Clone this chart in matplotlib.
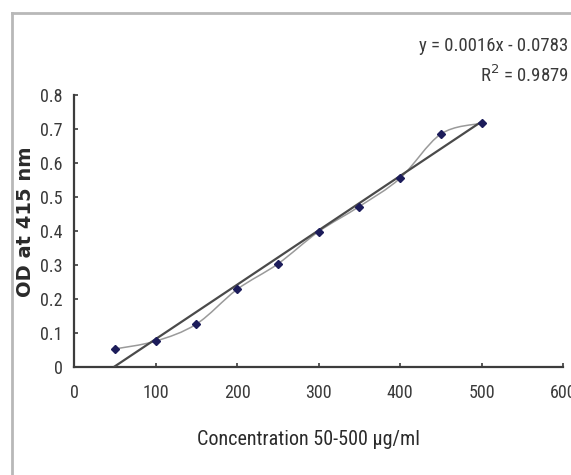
import matplotlib
matplotlib.use("Agg")
import matplotlib.pyplot as plt
from matplotlib.path import Path
from matplotlib.patches import PathPatch
from matplotlib.lines import Line2D
from matplotlib import font_manager
import numpy as np

# Data
concentration = [50, 100, 150, 200, 250, 300, 350, 400, 450, 500]
od_415 = [0.053, 0.076, 0.126, 0.228, 0.303, 0.398, 0.472, 0.555, 0.685, 0.717]
trend_slope = 0.0016
trend_intercept = -0.0783
trend_r2 = 0.9879
x_ticks = [0, 100, 200, 300, 400, 500, 600]
y_ticks = [0, 0.1, 0.2, 0.3, 0.4, 0.5, 0.6, 0.7, 0.8]

# pick a condensed font if one is installed
available = {f.name for f in font_manager.fontManager.ttflist}
cond_names = [n for n in ['Liberation Sans Narrow', 'Arial Narrow', 'Roboto Condensed',
                          'Open Sans Condensed', 'DejaVu Sans Condensed'] if n in available]
has_dv_cond = any(f.name == 'DejaVu Sans' and f.stretch in ('condensed', 'semi-condensed')
                  for f in font_manager.fontManager.ttflist)
if cond_names:
    narrow = dict(family=[cond_names[0], 'DejaVu Sans'])
elif has_dv_cond:
    narrow = dict(family=['DejaVu Sans'], stretch='condensed')
else:
    narrow = dict(family=['Liberation Sans', 'DejaVu Sans'])

text_col = '#3a3a3a'

fig = plt.figure(figsize=(5.71, 4.75), dpi=100)
ax = fig.add_axes([0.1296, 0.2274, 0.8564, 0.5726])

# Smoothed line through points (Catmull-Rom style Bezier, as Excel smoothing)
pts = np.column_stack([concentration, od_415]).astype(float)
verts = [tuple(pts[0])]
codes = [Path.MOVETO]
n = len(pts)
for i in range(n - 1):
    p0 = pts[i - 1] if i > 0 else pts[i]
    p1 = pts[i]
    p2 = pts[i + 1]
    p3 = pts[i + 2] if i + 2 < n else pts[i + 1]
    c1 = p1 + (p2 - p0) / 6.0
    c2 = p2 - (p3 - p1) / 6.0
    verts += [tuple(c1), tuple(c2), tuple(p2)]
    codes += [Path.CURVE4] * 3
ax.add_patch(PathPatch(Path(verts, codes), facecolor='none', edgecolor='#9a9a9a', lw=1.1, zorder=2))

# Trendline
tx = np.array([concentration[0], concentration[-1]], dtype=float)
ax.plot(tx, trend_slope * tx + trend_intercept, color='#4a4a4a', lw=1.6, zorder=3)

# Markers
ax.plot(concentration, od_415, linestyle='none', marker='D', markersize=4.0,
        color='#1c1c5a', zorder=4)

ax.set_xlim(0, 600)
ax.set_ylim(0, 0.8)
ax.set_xticks(x_ticks)
ax.set_yticks(y_ticks)
ax.set_xticklabels([str(v) for v in x_ticks])
ax.set_yticklabels(['0'] + [f'{v:.1f}' for v in y_ticks[1:]])

for s in ['top', 'right']:
    ax.spines[s].set_visible(False)
for s in ['left', 'bottom']:
    ax.spines[s].set_color('#3c3c3c')
    ax.spines[s].set_linewidth(1.6)

ax.tick_params(axis='both', direction='in', length=3, width=1.2, color='#3c3c3c',
               labelsize=13, labelcolor=text_col)
ax.tick_params(axis='x', pad=12)
ax.tick_params(axis='y', pad=8)
for lab in ax.get_xticklabels() + ax.get_yticklabels():
    lab.set(**narrow)

ax.set_xlabel('Concentration 50-500 µg/ml', fontsize=14.5, color='#2a2a2a', **narrow)
ax.xaxis.set_label_coords(0.479, -0.23)
ax.set_ylabel('OD at 415 nm', family=['DejaVu Sans'],
              fontweight='bold', fontsize=14, color='#2a2a2a')
ax.yaxis.set_label_coords(-0.0798, 0.535)

fig.text(0.996, 0.903, 'y = 0.0016x - 0.0783', ha='right', va='center',
         fontsize=13.5, color=text_col, **narrow)
fig.text(0.996, 0.842, 'R$^2$ = 0.9879', ha='right', va='center',
         fontsize=13.5, color=text_col, **narrow)

# Outer frame lines (left and top)
fig.add_artist(Line2D([12/571, 12/571], [0, 1 - 13/475], transform=fig.transFigure,
                      color='#b8b8b8', lw=2))
fig.add_artist(Line2D([12/571, 1], [1 - 13/475, 1 - 13/475], transform=fig.transFigure,
                      color='#b8b8b8', lw=2))

fig.savefig('out.png', dpi=100)
